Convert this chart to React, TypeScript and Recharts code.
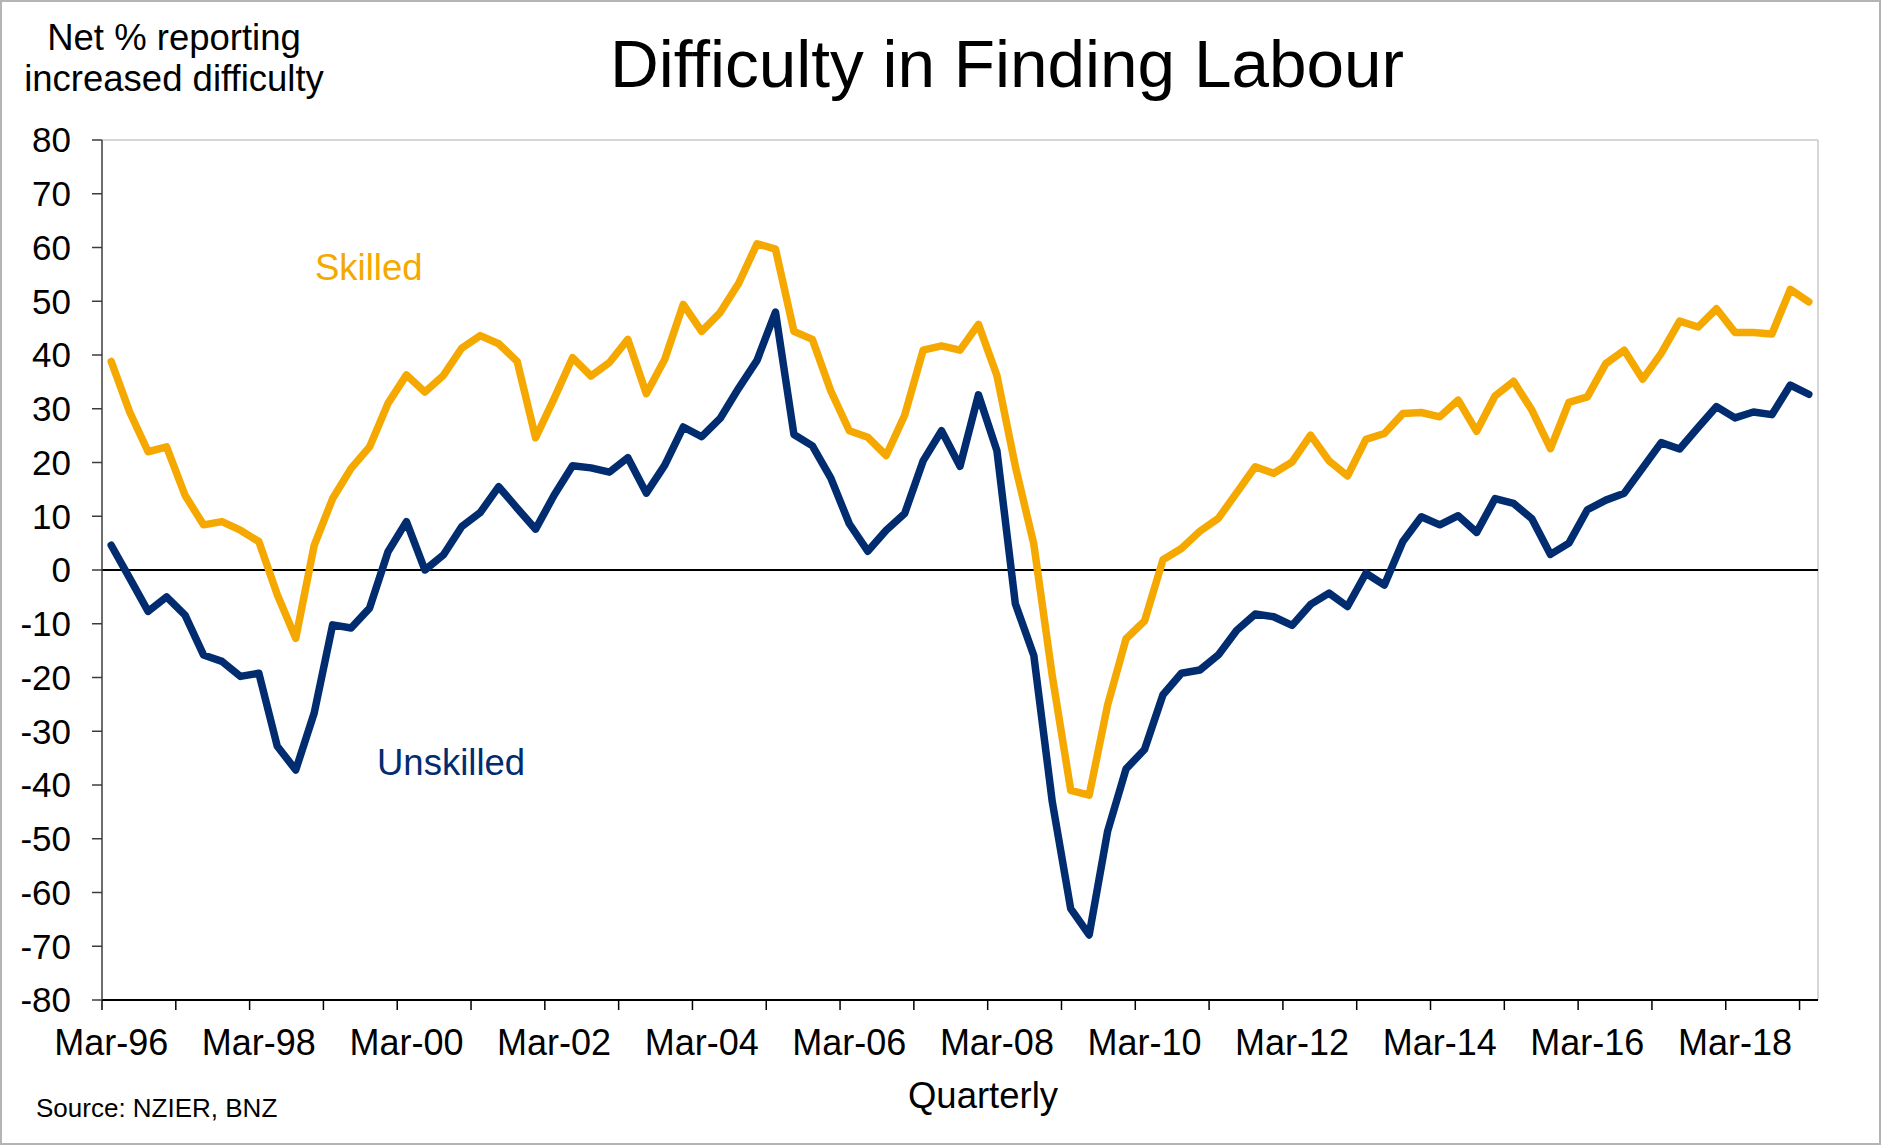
import * as React from 'react';
import { LineChart, Line, XAxis, YAxis, ReferenceLine } from 'recharts';

const months = ['Mar', 'Jun', 'Sep', 'Dec'];
const years = ['96', '97', '98', '99', '00', '01', '02', '03', '04', '05', '06', '07',
  '08', '09', '10', '11', '12', '13', '14', '15', '16', '17', '18', '19'];

// quarterly categories, Mar-96 .. Mar-19
const quarters: string[] = years
  .flatMap((y) => months.map((m) => `${m}-${y}`))
  .slice(0, 93);

const tickLabels = ['Mar-96', 'Mar-98', 'Mar-00', 'Mar-02', 'Mar-04', 'Mar-06',
  'Mar-08', 'Mar-10', 'Mar-12', 'Mar-14', 'Mar-16', 'Mar-18'];

const yTicks = [-80, -70, -60, -50, -40, -30, -20, -10, 0, 10, 20, 30, 40, 50, 60, 70, 80];

const skilled = [
  38.8, 29.4, 22.0, 22.9, 13.9, 8.4, 9.0, 7.4, 5.3, -4.6,
  -12.7, 4.6, 13.3, 18.9, 22.9, 31.0, 36.3, 33.1, 36.2, 41.3,
  43.6, 42.1, 38.8, 24.6, 31.9, 39.5, 36.1, 38.6, 42.9, 32.8,
  39.2, 49.4, 44.4, 47.9, 53.3, 60.7, 59.7, 44.4, 42.9, 33.3,
  25.9, 24.7, 21.3, 28.8, 40.9, 41.7, 40.9, 45.7, 36.2, 19.3,
  4.8, -19.7, -41.0, -41.9, -25.1, -12.8, -9.5, 1.9, 4.0, 7.2,
  9.6, 14.4, 19.2, 18.0, 20.1, 25.1, 20.3, 17.5, 24.3, 25.4,
  29.1, 29.3, 28.5, 31.6, 25.8, 32.4, 35.1, 29.7, 22.6, 31.2,
  32.2, 38.4, 40.9, 35.5, 40.3, 46.3, 45.2, 48.6, 44.2, 44.2,
  43.9, 52.2, 49.9,
];

const unskilled = [
  4.6, -1.5, -7.7, -5.0, -8.4, -15.8, -17.0, -19.8, -19.2, -32.8,
  -37.2, -26.6, -10.2, -10.8, -7.1, 3.4, 9.0, 0.0, 2.8, 8.1,
  10.7, 15.5, 11.5, 7.6, 13.9, 19.4, 19.0, 18.2, 20.9, 14.3,
  19.5, 26.6, 24.8, 28.2, 33.8, 39.0, 48.0, 25.2, 23.1, 17.1,
  8.6, 3.5, 7.4, 10.5, 20.3, 25.9, 19.3, 32.6, 22.2, -6.3,
  -15.9, -43.1, -63.0, -67.9, -48.6, -37.0, -33.4, -23.2, -19.2, -18.6,
  -15.8, -11.2, -8.2, -8.7, -10.3, -6.4, -4.3, -6.8, -0.6, -2.8,
  5.3, 9.9, 8.4, 10.1, 7.0, 13.3, 12.4, 9.5, 2.9, 5.0,
  11.2, 13.0, 14.3, 19.0, 23.7, 22.5, 26.5, 30.4, 28.3, 29.4,
  28.9, 34.4, 32.7,
];

const data = quarters.map((q, i) => ({ i, q, skilled: skilled[i], unskilled: unskilled[i] }));

// labels sit on the quarter, tick marks between quarters every year
const labelTicks = tickLabels.map((t) => quarters.indexOf(t));
const markTicks = quarters.map((_, i) => i).filter((i) => i % 4 === 0).map((i) => i - 0.5);

const ORANGE = '#F5A800';
const NAVY = '#022C70';
const FONT = 'Arial, "Liberation Sans", sans-serif';

export default function App() {
  return (
    <div style={{ position: 'absolute', left: 0, top: 0, width: 1881, height: 1145, background: '#fff', fontFamily: FONT }}>
      <LineChart
        width={1881}
        height={1145}
        data={data}
        margin={{ top: 140, right: 63, bottom: 85, left: 0 }}
        style={{ position: 'absolute', left: 0, top: 0 }}
      >
        {/* tick marks axis sits right on the plot, labels below it */}
        <XAxis
          xAxisId="a_marks"
          dataKey="i"
          type="number"
          domain={[-0.5, 92.5]}
          ticks={markTicks}
          interval={0}
          height={1}
          tickSize={10}
          tick={() => <g />}
          axisLine={{ stroke: '#000', strokeWidth: 2 }}
          tickLine={{ stroke: '#000', strokeWidth: 1.5 }}
        />
        <XAxis
          xAxisId="b_labels"
          dataKey="i"
          type="number"
          domain={[-0.5, 92.5]}
          ticks={labelTicks}
          interval={0}
          height={59}
          tickSize={0}
          tickMargin={28}
          axisLine={false}
          tickLine={false}
          tickFormatter={(v: number) => quarters[v]}
          tick={{ fill: '#000', fontSize: 36, fontFamily: FONT }}
        />
        <YAxis
          width={102}
          domain={[-80, 80]}
          ticks={yTicks}
          interval={0}
          tickSize={10}
          tickMargin={21}
          axisLine={{ stroke: '#3c3c3c', strokeWidth: 1.5 }}
          tickLine={{ stroke: '#3c3c3c', strokeWidth: 1.5 }}
          tick={{ fill: '#000', fontSize: 35, fontFamily: FONT }}
        />
        <ReferenceLine xAxisId="b_labels" y={80} stroke="#c8c8c8" strokeWidth={1.5} />
        <ReferenceLine xAxisId="b_labels" x={92.5} stroke="#c8c8c8" strokeWidth={1.5} />
        <ReferenceLine xAxisId="b_labels" y={0} stroke="#000" strokeWidth={2} />
        <Line
          xAxisId="b_labels"
          type="linear"
          dataKey="skilled"
          stroke={ORANGE}
          strokeWidth={7.5}
          strokeLinejoin="round"
          strokeLinecap="round"
          dot={false}
          isAnimationActive={false}
        />
        <Line
          xAxisId="b_labels"
          type="linear"
          dataKey="unskilled"
          stroke={NAVY}
          strokeWidth={7.5}
          strokeLinejoin="round"
          strokeLinecap="round"
          dot={false}
          isAnimationActive={false}
        />
      </LineChart>
      <svg width={1881} height={1145} style={{ position: 'absolute', left: 0, top: 0, pointerEvents: 'none' }} fontFamily={FONT}>
        <text x={1007} y={87} fontSize={67.5} textAnchor="middle" fill="#000">Difficulty in Finding Labour</text>
        <text x={174} y={50} fontSize={36.5} textAnchor="middle" fill="#000">Net % reporting</text>
        <text x={174} y={91} fontSize={36.5} textAnchor="middle" fill="#000">increased difficulty</text>
        <text x={315} y={280} fontSize={36.5} fill={ORANGE}>Skilled</text>
        <text x={377} y={775} fontSize={36.5} fill={NAVY}>Unskilled</text>
        <text x={983} y={1108} fontSize={36.5} textAnchor="middle" fill="#000">Quarterly</text>
        <text x={36} y={1117} fontSize={26} fill="#000">Source: NZIER, BNZ</text>
      </svg>
      <div style={{ position: 'absolute', inset: 0, border: '2px solid #b4b4b4', boxSizing: 'border-box', pointerEvents: 'none' }} />
    </div>
  );
}
